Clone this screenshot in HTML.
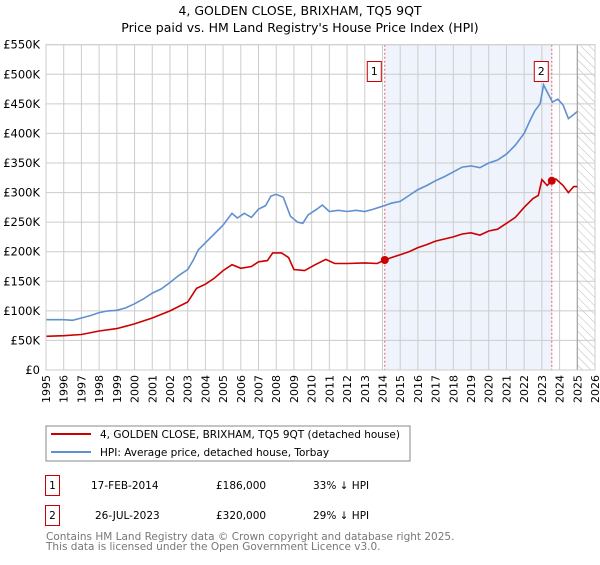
<!DOCTYPE html>
<html><head><meta charset="utf-8"><style>
body{margin:0;background:#fff;font-family:"Liberation Sans","DejaVu Sans",sans-serif;}
svg text{font-family:"DejaVu Sans","Liberation Sans",sans-serif;}
</style></head><body>
<svg id="c" width="600" height="560" viewBox="0 0 600 560" xmlns="http://www.w3.org/2000/svg">
<defs><pattern id="hatch" width="6" height="6" patternUnits="userSpaceOnUse" patternTransform="rotate(-45)"><line x1="0" y1="0" x2="0" y2="6" stroke="#bbb" stroke-width="1"/></pattern></defs>
<text x="300" y="15" text-anchor="middle" font-size="12.5">4, GOLDEN CLOSE, BRIXHAM, TQ5 9QT</text>
<text x="300" y="32" text-anchor="middle" font-size="12.5">Price paid vs. HM Land Registry's House Price Index (HPI)</text>
<g id="plot"></g>
<rect x="46" y="426" width="364" height="35" fill="none" stroke="#888"/>
<line x1="51" y1="434" x2="91" y2="434" stroke="#cc0000" stroke-width="2"/>
<text x="100" y="438" font-size="10.5">4, GOLDEN CLOSE, BRIXHAM, TQ5 9QT (detached house)</text>
<line x1="51" y1="452" x2="91" y2="452" stroke="#6090d0" stroke-width="2"/>
<text x="100" y="456" font-size="10.5">HPI: Average price, detached house, Torbay</text>
<g>
<rect x="45.5" y="475.5" width="14" height="20" fill="#fff" stroke="#cc0000"/><text x="52.5" y="489" text-anchor="middle" font-size="10.5">1</text>
<text x="91" y="489" font-size="10.5">17-FEB-2014</text><text x="216" y="489" font-size="10.5">£186,000</text><text x="313" y="489" font-size="10.5">33% ↓ HPI</text></g>
<g>
<rect x="45.5" y="505.5" width="14" height="20" fill="#fff" stroke="#cc0000"/><text x="52.5" y="519" text-anchor="middle" font-size="10.5">2</text>
<text x="95" y="519" font-size="10.5">26-JUL-2023</text><text x="216" y="519" font-size="10.5">£320,000</text><text x="313" y="519" font-size="10.5">29% ↓ HPI</text></g>
<text x="46" y="540" font-size="10.5" fill="#777">Contains HM Land Registry data © Crown copyright and database right 2025.</text>
<text x="46" y="550" font-size="10.5" fill="#777">This data is licensed under the Open Government Licence v3.0.</text>
</svg>
<script>
const yTicks=[0,50,100,150,200,250,300,350,400,450,500,550];
const yTickLabels=["£0","£50K","£100K","£150K","£200K","£250K","£300K","£350K","£400K","£450K","£500K","£550K"];
const years=[1995,1996,1997,1998,1999,2000,2001,2002,2003,2004,2005,2006,2007,2008,2009,2010,2011,2012,2013,2014,2015,2016,2017,2018,2019,2020,2021,2022,2023,2024,2025,2026];
const hpiT=[1995,1995.5,1996,1996.5,1997,1997.5,1998,1998.5,1999,1999.5,2000,2000.5,2001,2001.5,2002,2002.5,2003,2003.3,2003.6,2004,2004.5,2005,2005.5,2005.8,2006.2,2006.6,2007,2007.4,2007.7,2008,2008.4,2008.8,2009.2,2009.5,2009.8,2010.3,2010.6,2011,2011.5,2012,2012.5,2013,2013.5,2014,2014.5,2015,2015.5,2016,2016.5,2017,2017.5,2018,2018.5,2019,2019.5,2020,2020.5,2021,2021.5,2022,2022.3,2022.6,2022.9,2023.1,2023.3,2023.6,2023.9,2024.2,2024.5,2024.8,2025];
const hpiV=[85,85,85,84,88,92,97,100,101,105,112,120,130,137,148,160,170,185,203,215,230,245,265,257,265,258,272,278,294,297,292,260,250,248,262,272,279,268,270,268,270,268,272,277,282,285,295,305,312,320,327,335,343,345,342,350,355,365,380,400,420,438,450,482,470,453,458,448,425,432,437];
const propT=[1995,1996,1997,1998,1999,2000,2001,2002,2003,2003.5,2004,2004.5,2005,2005.5,2006,2006.6,2007,2007.5,2007.8,2008.3,2008.7,2009,2009.6,2010.2,2010.8,2011.3,2012,2013,2013.7,2014.13,2014.5,2015,2015.5,2016,2016.5,2017,2018,2018.5,2019,2019.5,2020,2020.5,2021,2021.5,2022,2022.5,2022.8,2023,2023.3,2023.56,2023.8,2024.2,2024.5,2024.8,2025];
const propV=[57,58,60,66,70,78,88,100,115,138,145,155,168,178,172,175,183,185,198,198,190,170,168,178,187,180,180,181,180,186,190,195,200,207,212,218,225,230,232,228,235,238,248,258,275,290,295,322,312,320,323,312,300,310,310];
const saleT=[2014.13,2023.56];
const saleV=[186,320];
const saleLabels=["1","2"];
const NS="http://www.w3.org/2000/svg";
const X0=46,X1=595,Y0=370,Y1=44.7;
const xs=t=>X0+(t-1995)/(2026-1995)*(X1-X0);
const ys=v=>Y0-v/550*(Y0-Y1);
const g=document.getElementById('plot');
function mk(tag,attrs){const e=document.createElementNS(NS,tag);for(const k in attrs)e.setAttribute(k,attrs[k]);g.appendChild(e);return e;}
let r=mk('rect',{x:xs(saleT[0]),y:Y1,width:xs(saleT[1])-xs(saleT[0]),height:Y0-Y1,fill:'#eef3fc'});


r=mk('rect',{x:xs(2025),y:Y1,width:X1-xs(2025),height:Y0-Y1,fill:'url(#hatch)'});


years.forEach(y=>{const l=mk('line',{x1:xs(y),x2:xs(y),y1:Y1,y2:Y0,stroke:'#ccc','stroke-width':1});


const t=mk('text',{x:0,y:0,'font-size':11,'text-anchor':'end',transform:`translate(${xs(y)+4},${Y0+5}) rotate(-90)`});t.textContent=y;

});
yTicks.forEach((v,i)=>{const l=mk('line',{x1:X0,x2:X1,y1:ys(v),y2:ys(v),stroke:'#ccc','stroke-width':1});


const t=mk('text',{x:X0-6,y:ys(v)+4,'font-size':11.5,'text-anchor':'end'});t.textContent=yTickLabels[i];

});
const hl=mk('line',{x1:xs(2025),x2:xs(2025),y1:Y1,y2:Y0,stroke:'#999','stroke-width':1});


saleT.forEach((t,i)=>{const l=mk('line',{x1:xs(t),x2:xs(t),y1:Y1,y2:Y0,stroke:'#e06060','stroke-dasharray':'2,2','stroke-width':1});

});
function path(T,V,c,n){const d=T.map((t,i)=>(i?'L':'M')+xs(t).toFixed(1)+','+ys(V[i]).toFixed(1)).join('');const p=mk('path',{d:d,fill:'none',stroke:c,'stroke-width':1.6});

}
path(hpiT,hpiV,'#6090d0','hpi-line');
path(propT,propV,'#cc0000','property-line');
saleT.forEach((t,i)=>{const c=mk('circle',{cx:xs(t),cy:ys(saleV[i]),r:4,fill:'#cc0000'});


const b=mk('rect',{x:xs(t)-17.5,y:61.5,width:14,height:20,fill:'#fff',stroke:'#cc0000'});


const tx=mk('text',{x:xs(t)-10.5,y:75,'font-size':11,'text-anchor':'middle'});tx.textContent=saleLabels[i];

});
const ax=mk('rect',{x:X0,y:Y1,width:X1-X0,height:Y0-Y1,fill:'none',stroke:'#ccc'});


</script>
</body></html>
